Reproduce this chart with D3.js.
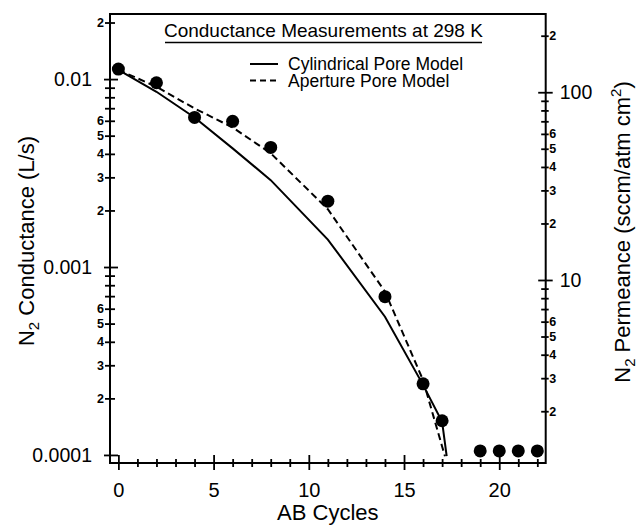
<!DOCTYPE html>
<html>
<head>
<meta charset="utf-8">
<script src="https://cdn.jsdelivr.net/npm/d3@7"></script>
<style>
  body { margin: 0; background: #fff; }
  text { font-family: "Liberation Sans", Arial, Helvetica, sans-serif; fill: #000; }
</style>
</head>
<body>
<script>
// measured N2 conductance (L/s) vs AB cycles
var cycles = [0, 2, 4, 6, 8, 11, 14, 16, 17, 19, 20, 21, 22];
var conductance = [0.0113, 0.00956, 0.00625, 0.00596, 0.00433, 0.00224, 0.000695, 0.000239, 0.000152, 0.000105, 0.000105, 0.000105, 0.000105];

// model curves
var cylCycles = [0, 2, 4, 6, 8, 11, 14, 16, 17, 17.24];
var cylValues = [0.0112, 0.00856, 0.00625, 0.00428, 0.0029, 0.0014, 0.000544, 0.000236, 0.00015, 0.0000985];
var apCycles = [0, 2, 4, 6, 8, 11, 14, 16, 17, 17.15];
var apValues = [0.0112, 0.0091, 0.00698, 0.00553, 0.00403, 0.00203, 0.00074, 0.00025, 0.000111, 0.0000985];

// tick values and labels
var xMajor = [0, 5, 10, 15, 20];
var xMinor = [1, 2, 3, 4, 6, 7, 8, 9, 11, 12, 13, 14, 16, 17, 18, 19, 21, 22];
var leftMajor = [0.01, 0.001, 0.0001];
var leftMajorLabels = ["0.01", "0.001", "0.0001"];
var leftMinor = [0.02, 0.009, 0.008, 0.007, 0.006, 0.005, 0.004, 0.003, 0.002,
                 0.0009, 0.0008, 0.0007, 0.0006, 0.0005, 0.0004, 0.0003, 0.0002];
var leftMinorLabels = ["2", "", "", "", "6", "5", "4", "3", "2", "", "", "", "6", "5", "4", "3", "2"];
var rightMajor = [100, 10];
var rightMajorLabels = ["100", "10"];
var rightMinor = [200, 90, 80, 70, 60, 50, 40, 30, 20, 9, 8, 7, 6, 5, 4, 3, 2];
var rightMinorLabels = ["2", "", "", "", "6", "5", "4", "3", "2", "", "", "", "6", "5", "4", "3", "2"];

var title = "Conductance Measurements at 298 K";
var legendLabels = ["Cylindrical Pore Model", "Aperture Pore Model"];

var width = 641, height = 525;
var margin = {left: 110, right: 95.3, top: 14, bottom: 62};

var svg = d3.select("body").append("svg")
  .attr("width", width)
  .attr("height", height);

var x = d3.scaleLinear().domain([-0.44, 22.44]).range([margin.left, width - margin.right]);
var y = d3.scaleLog().domain([0.0000906, 0.0222]).range([height - margin.bottom, margin.top]);
var yR = d3.scaleLog().domain([1.06, 261]).range([height - margin.bottom, margin.top]);

var x0 = margin.left, x1 = width - margin.right;
var y0 = margin.top, y1 = height - margin.bottom;

// helper to restyle an axis group: ticks cross the axis line
function styleAxis(g, a, b, orient, fontSize, bold) {
  g.select(".domain").remove();
  g.selectAll(".tick line").attr("stroke", "#000").attr("stroke-width", 1.8);
  if (orient === "v") g.selectAll(".tick line").attr("x1", a).attr("x2", b);
  else g.selectAll(".tick line").attr("y1", a).attr("y2", b);
  g.attr("font-size", fontSize).attr("font-family", null);
  g.selectAll("text").attr("font-weight", bold ? "bold" : "normal");
}

// x axis
var gxMinor = svg.append("g").attr("transform", "translate(0," + y1 + ")")
  .call(d3.axisBottom(x).tickValues(xMinor).tickFormat(function() { return ""; }));
styleAxis(gxMinor, -4, 4, "h", 12, false);
var gxMajor = svg.append("g").attr("transform", "translate(0," + y1 + ")")
  .call(d3.axisBottom(x).tickValues(xMajor).tickFormat(d3.format("d")).tickSize(7).tickPadding(13));
styleAxis(gxMajor, -8, 7, "h", 20, false);

// left axis
var glMinor = svg.append("g").attr("transform", "translate(" + x0 + ",0)")
  .call(d3.axisLeft(y).tickValues(leftMinor).tickFormat(function(d, i) { return leftMinorLabels[i]; }).tickSize(0).tickPadding(6));
styleAxis(glMinor, -5, 5, "v", 12.5, true);
var glMajor = svg.append("g").attr("transform", "translate(" + x0 + ",0)")
  .call(d3.axisLeft(y).tickValues(leftMajor).tickFormat(function(d, i) { return leftMajorLabels[i]; }).tickSize(0).tickPadding(18));
styleAxis(glMajor, -6, 8, "v", 19.5, false);

// right axis
var grMinor = svg.append("g").attr("transform", "translate(" + x1 + ",0)")
  .call(d3.axisRight(yR).tickValues(rightMinor).tickFormat(function(d, i) { return rightMinorLabels[i]; }).tickSize(0).tickPadding(3.5));
styleAxis(grMinor, -4.5, 3, "v", 12.5, true);
var grMajor = svg.append("g").attr("transform", "translate(" + x1 + ",0)")
  .call(d3.axisRight(yR).tickValues(rightMajor).tickFormat(function(d, i) { return rightMajorLabels[i]; }).tickSize(0).tickPadding(14));
styleAxis(grMajor, -7.5, 7, "v", 19.5, false);

// frame
svg.append("rect")
  .attr("x", x0).attr("y", y0)
  .attr("width", x1 - x0).attr("height", y1 - y0)
  .attr("fill", "none").attr("stroke", "#000").attr("stroke-width", 2);

// clip for curves
svg.append("clipPath").attr("id", "clip")
  .append("rect").attr("x", x0).attr("y", y0).attr("width", x1 - x0).attr("height", y1 - y0);

var line = d3.line()
  .x(function(d) { return x(d[0]); })
  .y(function(d) { return y(d[1]); });

svg.append("path")
  .datum(d3.zip(cylCycles, cylValues))
  .attr("clip-path", "url(#clip)")
  .attr("fill", "none").attr("stroke", "#000").attr("stroke-width", 2)
  .attr("d", line);

svg.append("path")
  .datum(d3.zip(apCycles, apValues))
  .attr("clip-path", "url(#clip)")
  .attr("fill", "none").attr("stroke", "#000").attr("stroke-width", 2)
  .attr("stroke-dasharray", "7,4")
  .attr("d", line);

// points
svg.append("g").selectAll("circle")
  .data(d3.zip(cycles, conductance))
  .enter().append("circle")
  .attr("cx", function(d) { return x(d[0]); })
  .attr("cy", function(d) { return y(d[1]); })
  .attr("r", 6.5)
  .attr("fill", "#000");

// title with underline
svg.append("text")
  .attr("x", 323.4).attr("y", 36.5)
  .attr("text-anchor", "middle")
  .attr("font-size", 19)
  .text(title);
svg.append("line")
  .attr("x1", 165).attr("x2", 482).attr("y1", 42.5).attr("y2", 42.5)
  .attr("stroke", "#000").attr("stroke-width", 1.5);

// legend
var legend = svg.append("g");
[64, 80.5].forEach(function(ly, i) {
  legend.append("line")
    .attr("x1", 250).attr("x2", 278).attr("y1", ly).attr("y2", ly)
    .attr("stroke", "#000").attr("stroke-width", 2)
    .attr("stroke-dasharray", i === 1 ? "6,4" : null);
  legend.append("text")
    .attr("x", 288).attr("y", ly + 6)
    .attr("font-size", 17.5)
    .text(legendLabels[i]);
});

// axis titles
svg.append("text")
  .attr("x", (x0 + x1) / 2).attr("y", 520)
  .attr("text-anchor", "middle")
  .attr("font-size", 22)
  .text("AB Cycles");

var lt = svg.append("text")
  .attr("transform", "translate(34,241) rotate(-90)")
  .attr("text-anchor", "middle")
  .attr("font-size", 22);
lt.append("tspan").text("N");
lt.append("tspan").attr("font-size", 15).attr("dy", 5).text("2");
lt.append("tspan").attr("dy", -5).text(" Conductance (L/s)");

var rt = svg.append("text")
  .attr("transform", "translate(630,232) rotate(-90)")
  .attr("text-anchor", "middle")
  .attr("font-size", 22);
rt.append("tspan").text("N");
rt.append("tspan").attr("font-size", 15).attr("dy", 5).text("2");
rt.append("tspan").attr("dy", -5).text(" Permeance (sccm/atm cm");
rt.append("tspan").attr("font-size", 15).attr("dy", -9).text("2");
rt.append("tspan").attr("dy", 9).text(")");
</script>
</body>
</html>
